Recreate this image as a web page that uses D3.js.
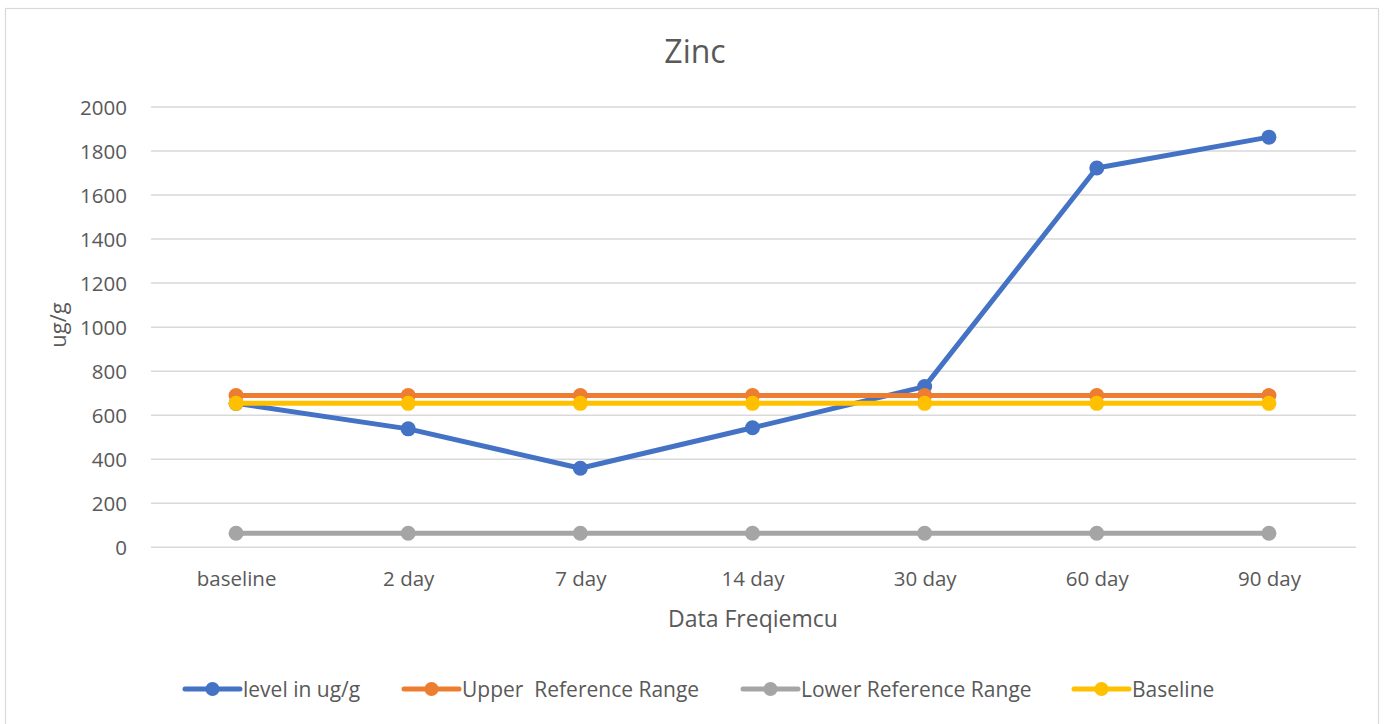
<!DOCTYPE html>
<html>
<head>
<meta charset="utf-8">
<script src="https://cdn.jsdelivr.net/npm/d3@7"></script>
<style>
  html, body { margin: 0; padding: 0; background: #fff; }
  svg { display: block; font-family: "Open Sans", sans-serif; }
  text { white-space: pre; }
</style>
</head>
<body>
<svg id="chart" width="1385" height="724"></svg>
<script>
const categories = ["baseline", "2 day", "7 day", "14 day", "30 day", "60 day", "90 day"];
const levelValues = [654, 538, 359, 543, 730, 1723, 1863];
const upperValues = [689, 689, 689, 689, 689, 689, 689];
const lowerValues = [64, 64, 64, 64, 64, 64, 64];
const baselineValues = [654, 654, 654, 654, 654, 654, 654];
const yTicks = [0, 200, 400, 600, 800, 1000, 1200, 1400, 1600, 1800, 2000];
const seriesNames = ["level in ug/g", "Upper  Reference Range", "Lower Reference Range", "Baseline"];
const seriesColors = ["#4472C4", "#ED7D31", "#A5A5A5", "#FFC000"];
const chartTitle = "Zinc";
const xTitle = "Data Freqiemcu";
const yTitle = "ug/g";

const series = [levelValues, upperValues, lowerValues, baselineValues].map((vals, i) => ({
  name: seriesNames[i], color: seriesColors[i], values: vals
}));

const FONT = "'Open Sans', sans-serif";
const TXT = "#595959";

const svg = d3.select("#chart");
svg.append("rect").attr("x", 5.5).attr("y", 8.5).attr("width", 1373).attr("height", 730)
  .attr("fill", "#fff").attr("stroke", "#d9d9d9").attr("stroke-width", 1.2);

const x = d3.scalePoint().domain(categories).range([150, 1355]).padding(0.5);
const y = d3.scaleLinear().domain([0, 2000]).range([547.3, 107]);

// gridlines
svg.append("g").selectAll("line").data(yTicks).join("line")
  .attr("x1", 151).attr("x2", 1356)
  .attr("y1", d => y(d)).attr("y2", d => y(d))
  .attr("stroke", "#d9d9d9").attr("stroke-width", 1.5);

// y axis labels
const yAxis = d3.axisLeft(y).tickValues(yTicks).tickFormat(d3.format("d")).tickSize(0).tickPadding(0);
const yg = svg.append("g").attr("transform", "translate(127,0)").call(yAxis);
yg.select(".domain").remove();
yg.selectAll("text").attr("font-size", 20.5).attr("fill", TXT)
  .attr("font-family", FONT).attr("dy", "0.37em");

// x axis labels
const xAxis = d3.axisBottom(x).tickSize(0).tickPadding(0);
const xg = svg.append("g").attr("transform", "translate(0,586)").call(xAxis);
xg.select(".domain").remove();
xg.selectAll("text").attr("font-size", 20.5).attr("fill", TXT)
  .attr("font-family", FONT).attr("dy", "0");

// titles
svg.append("text").attr("x", 695).attr("y", 63).attr("text-anchor", "middle")
  .attr("font-size", 32).attr("fill", TXT).text(chartTitle);
svg.append("text").attr("x", 753).attr("y", 627).attr("text-anchor", "middle")
  .attr("font-size", 23).attr("fill", TXT).text(xTitle);
svg.append("text").attr("transform", "translate(66,325) rotate(-90)").attr("text-anchor", "middle")
  .attr("font-size", 22).attr("fill", TXT).text(yTitle);

// series
const line = d3.line().x((d, i) => x(categories[i])).y(d => y(d));
series.forEach(s => {
  const g = svg.append("g");
  g.append("path").attr("d", line(s.values)).attr("fill", "none")
    .attr("stroke", s.color).attr("stroke-width", 5).attr("stroke-linejoin", "round");
  g.selectAll("circle").data(s.values).join("circle")
    .attr("cx", (d, i) => x(categories[i])).attr("cy", d => y(d))
    .attr("r", 7.5).attr("fill", s.color);
});

// legend
const legendX = [185, 404, 743, 1074];
const legendY = 689;
series.forEach((s, i) => {
  const g = svg.append("g").attr("transform", `translate(${legendX[i]},${legendY})`);
  g.append("line").attr("x1", 0).attr("x2", 55).attr("stroke", s.color)
    .attr("stroke-width", 5).attr("stroke-linecap", "round");
  g.append("circle").attr("cx", 27.5).attr("cy", 0).attr("r", 7).attr("fill", s.color);
  g.append("text").attr("x", 58).attr("y", 0).attr("dy", "0.37em")
    .attr("font-size", 21).attr("fill", TXT).attr("xml:space", "preserve").text(s.name);
});
</script>
</body>
</html>
